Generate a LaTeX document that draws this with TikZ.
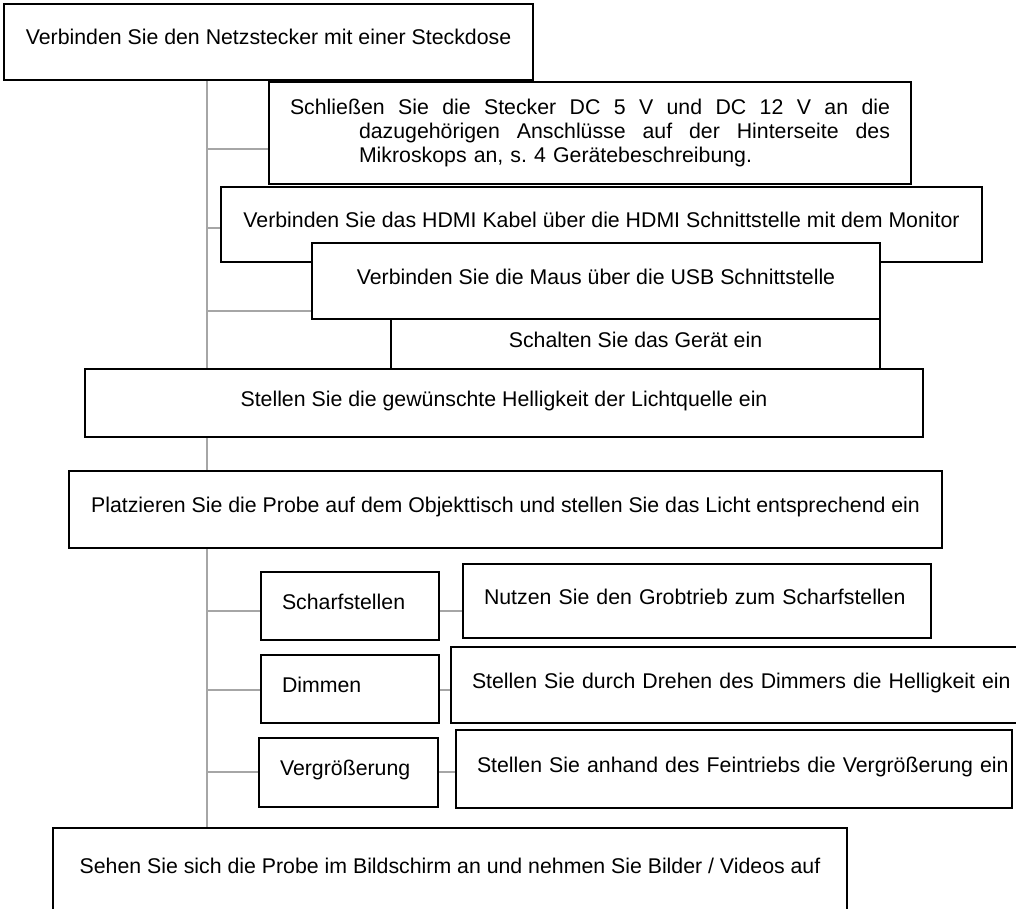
\documentclass[tikz,border=0pt]{standalone}
\usepackage{fontspec}
\setmainfont{Liberation Sans}
\usetikzlibrary{backgrounds}
\newcommand{\boxfont}{\fontsize{10.65pt}{11.8pt}\selectfont}
\newcommand{\fullline}[2]{\makebox[#1][s]{\spaceskip=0.28em plus 1fil\relax #2}}

\begin{document}
\begin{tikzpicture}[x=0.5pt, y=-0.5pt, font=\boxfont,
	plainbox/.style={draw, line width=0.75pt, fill=white, inner sep=0pt},
	stepbox/.style={plainbox, text height=0.75em, text depth=0.45em},
	leftbox/.style={stepbox, align=left, text width=#1, execute at begin node={\hspace*{10.5pt}}},
	link/.style={draw=black!35, line width=0.6pt}]
	\useasboundingbox (0,0) rectangle (1016,909);
	\clip (0,0) rectangle (1016,909);

	\node [stepbox, minimum width=264.5pt, minimum height=38pt] at (268.5,42) (netz) {Verbinden Sie den Netzstecker mit einer Steckdose};
	\node [plainbox, minimum width=321pt, minimum height=51pt, text width=300pt, align=left] at (590,133) (dc) {\fullline{300pt}{Schließen Sie die Stecker DC 5 V und DC 12 V an die}\\
		\hspace*{34.5pt}\fullline{265.5pt}{dazugehörigen Anschlüsse auf der Hinterseite des}\\
		\hspace*{34.5pt}Mikroskops an, s.\ 4 Gerätebeschreibung.};
	\node [stepbox, minimum width=380.5pt, minimum height=37.5pt] at (601.5,224.5) (hdmi) {Verbinden Sie das HDMI Kabel über die HDMI Schnittstelle mit dem Monitor};
	\node [stepbox, minimum width=244.5pt, minimum height=25pt] at (635.5,344) (ein) {Schalten Sie das Gerät ein};
	\node [stepbox, minimum width=284pt, minimum height=38pt] at (596,281) (maus) {Verbinden Sie die Maus über die USB Schnittstelle};
	\node [stepbox, minimum width=419pt, minimum height=34pt] at (504,403) (licht) {Stellen Sie die gewünschte Helligkeit der Lichtquelle ein};
	\node [stepbox, minimum width=436.5pt, minimum height=38.5pt] at (505.5,509.5) (probe) {Platzieren Sie die Probe auf dem Objekttisch und stellen Sie das Licht entsprechend ein};
	\node [leftbox=89pt, minimum height=34pt] at (350,606) (scharf) {Scharfstellen};
	\node [leftbox=234pt, minimum height=37pt] at (697,601) (grob) {Nutzen Sie den Grobtrieb zum Scharfstellen};
	\node [leftbox=89pt, minimum height=34pt] at (350,689) (dimm) {Dimmen};
	\node [leftbox=289.5pt, minimum height=38pt] at (740.5,685) (dreh) {Stellen Sie durch Drehen des Dimmers die Helligkeit ein};
	\node [leftbox=89.5pt, minimum height=34.5pt] at (348.5,772.5) (vergr) {Vergrößerung};
	\node [leftbox=278pt, minimum height=39pt] at (734,769) (fein) {Stellen Sie anhand des Feintriebs die Vergrößerung ein};
	\node [stepbox, minimum width=397pt, minimum height=42pt] at (450,870) (bild) {Sehen Sie sich die Probe im Bildschirm an und nehmen Sie Bilder / Videos auf};

	% junctions on the trunk
	\coordinate (j1) at (207,149);
	\coordinate (j2) at (207,228);
	\coordinate (j3) at (207,311);
	\coordinate (j4) at (207,611);
	\coordinate (j5) at (207,690);
	\coordinate (j6) at (207,772);

	\begin{scope}[on background layer]
		\draw [link] (j1 |- netz.south) -- (j1 |- bild.north);
		\draw [link] (j1) -- (j1 -| dc.west);
		\draw [link] (j2) -- (j2 -| hdmi.west);
		\draw [link] (j3) -- (j3 -| maus.west);
		\draw [link] (j4) -- (j4 -| scharf.west);
		\draw [link] (j4 -| scharf.east) -- (j4 -| grob.west);
		\draw [link] (j5) -- (j5 -| dimm.west);
		\draw [link] (j5 -| dimm.east) -- (j5 -| dreh.west);
		\draw [link] (j6) -- (j6 -| vergr.west);
		\draw [link] (j6 -| vergr.east) -- (j6 -| fein.west);
	\end{scope}
\end{tikzpicture}
\end{document}
